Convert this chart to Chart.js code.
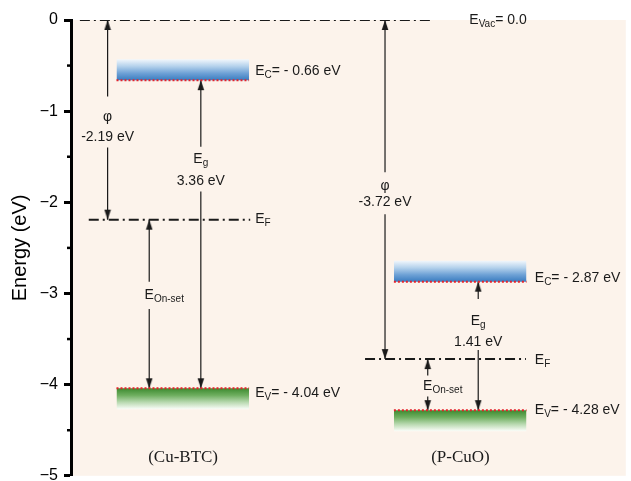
<!DOCTYPE html>
<html>
<head>
<meta charset="utf-8">
<script src="https://cdn.jsdelivr.net/npm/chart.js@4"></script>
<style>
  html, body { margin: 0; padding: 0; background: #fff; }
  canvas { display: block; }
</style>
</head>
<body>
<canvas id="band-chart" width="631" height="481"></canvas>
<script>
// band positions (eV, vacuum = 0)
const materials = ['(Cu-BTC)', '(P-CuO)'];
const conductionBand = [-0.66, -2.87];
const valenceBand = [-4.04, -4.28];
const fermiLevel = [-2.19, -3.72];
const bandGap = [3.36, 1.41];
const vacuumLevel = 0.0;
const yTicks = [0, -1, -2, -3, -4, -5];

// layout only: x in 0..100 across the plot, text/gap spots in eV
const BAND_H = 0.23;
const vacLine = [1.6, 65.4], vacLabelX = 71.8;
const place = [
  { band: [8.2, 32.1], fermiLine: [3.2, 32.3], phiX: 6.6, gapX: 23.4, onsetX: 14.1, labelX: 33.2, nameX: 20.2,
    phiGap: [-0.84, -1.40], phiText: [-1.07, -1.28],
    gapGap: [-1.39, -1.88], gapText: [-1.53, -1.77],
    onsetGap: [-2.87, -3.17], onsetText: -3.02,
    ecDy: -9, evDy: 5, efDy: 0 },
  { band: [58.2, 82.1], fermiLine: [53.0, 82.0], phiX: 56.6, gapX: 73.4, onsetX: 64.3, labelX: 83.6, nameX: 70.2,
    phiGap: [-1.67, -2.13], phiText: [-1.82, -2.00],
    gapGap: [-3.06, -3.62], gapText: [-3.30, -3.53],
    onsetGap: [-3.90, -4.13], onsetText: -4.02,
    ecDy: -3, evDy: 0, efDy: 1 }
];
const nameY = -4.80;

const SANS = '"Liberation Sans", Arial, sans-serif';
const SERIF = '"Liberation Serif", "Times New Roman", serif';
const INK = '#1a1a1a';

function arrowHead(up) {
  const c = document.createElement('canvas');
  c.width = 8; c.height = 22;
  const g = c.getContext('2d');
  g.fillStyle = INK;
  g.beginPath();
  if (up) { g.moveTo(4, 11); g.lineTo(7.3, 21); g.lineTo(0.7, 21); }
  else { g.moveTo(4, 11); g.lineTo(7.3, 1); g.lineTo(0.7, 1); }
  g.closePath();
  g.fill();
  return c;
}
const headUp = arrowHead(true), headDown = arrowHead(false);

function arrow(x, from, to, gap) {
  return {
    data: [{x, y: from}, {x, y: gap[0]}, {x, y: null}, {x, y: gap[1]}, {x, y: to}],
    borderColor: INK, borderWidth: 1.2, spanGaps: false,
    pointStyle: c => c.dataIndex === 0 ? headUp : headDown,
    pointRadius: c => (c.dataIndex === 0 || c.dataIndex === 4) ? 4 : 0
  };
}

function dashDot(x0, x1, y) {
  return {
    data: [{x: x0, y}, {x: x1, y}],
    borderColor: INK, borderWidth: 2, borderDash: [10, 4, 2, 4], pointRadius: 0
  };
}

function bandFill(x0, x1, edge, top, stops) {
  return {
    data: [{x: x0, y: top}, {x: x1, y: top}],
    borderWidth: 0, pointRadius: 0,
    fill: {value: edge},
    backgroundColor: c => {
      const chart = c.chart;
      if (!chart.chartArea) return stops[stops.length - 1];
      const y = chart.scales.y;
      const g = chart.ctx.createLinearGradient(0, y.getPixelForValue(top), 0, y.getPixelForValue(edge));
      stops.forEach((s, i) => g.addColorStop(i / (stops.length - 1), s));
      return g;
    }
  };
}

function redEdge(x0, x1, y) {
  return {
    data: [{x: x0, y}, {x: x1, y}],
    borderColor: '#e5222b', borderWidth: 2, borderDash: [2, 2], pointRadius: 0
  };
}

const datasets = [dashDot(vacLine[0], vacLine[1], vacuumLevel)];
materials.forEach((m, i) => {
  const p = place[i];
  datasets.push(bandFill(p.band[0], p.band[1], conductionBand[i], conductionBand[i] + BAND_H,
    ['#f2f7fc', '#b5d2ec', '#6fa2d6', '#3a7cc0']));
  datasets.push(bandFill(p.band[0], p.band[1], valenceBand[i], valenceBand[i] - BAND_H,
    ['#fbfdf9', '#b8d9b0', '#6eae5f', '#3c8a2f']));
  datasets.push(redEdge(p.band[0], p.band[1], conductionBand[i]));
  datasets.push(redEdge(p.band[0], p.band[1], valenceBand[i]));
  datasets.push(dashDot(p.fermiLine[0], p.fermiLine[1], fermiLevel[i]));
  datasets.push(arrow(p.phiX, vacuumLevel, fermiLevel[i], p.phiGap));
  datasets.push(arrow(p.gapX, conductionBand[i], valenceBand[i], p.gapGap));
  datasets.push(arrow(p.onsetX, fermiLevel[i], valenceBand[i], p.onsetGap));
});

// text with subscripts: parts = [[text, isSub], ...]
function rich(ctx, parts, px, py, mode) {
  const fMain = '14px ' + SANS, fSub = '10px ' + SANS;
  ctx.textBaseline = 'middle';
  ctx.textAlign = 'left';
  const widths = parts.map(([t, s]) => { ctx.font = s ? fSub : fMain; return ctx.measureText(t).width; });
  const total = widths.reduce((a, b) => a + b, 0);
  let x = px;
  if (mode === 'center') x = px - total / 2;
  if (mode === 'first') x = px - widths[0] / 2;
  parts.forEach(([t, s], k) => {
    ctx.font = s ? fSub : fMain;
    ctx.fillText(t, x, s ? py + 4 : py);
    x += widths[k];
  });
}

const eV = v => '= - ' + Math.abs(v).toFixed(2) + ' eV';

const bandLabels = {
  id: 'bandLabels',
  afterDatasetsDraw(chart) {
    const {ctx, scales: {x, y}} = chart;
    ctx.save();
    ctx.fillStyle = INK;
    rich(ctx, [['E', 0], ['Vac', 1], ['= ' + vacuumLevel.toFixed(1), 0]], x.getPixelForValue(vacLabelX), y.getPixelForValue(vacuumLevel), 'left');
    materials.forEach((m, i) => {
      const p = place[i];
      const lx = x.getPixelForValue(p.labelX);
      rich(ctx, [['E', 0], ['C', 1], [eV(conductionBand[i]), 0]], lx, y.getPixelForValue(conductionBand[i]) + p.ecDy, 'left');
      rich(ctx, [['E', 0], ['V', 1], [eV(valenceBand[i]), 0]], lx, y.getPixelForValue(valenceBand[i]) + p.evDy, 'left');
      rich(ctx, [['E', 0], ['F', 1]], lx, y.getPixelForValue(fermiLevel[i]) + p.efDy, 'left');

      const phx = x.getPixelForValue(p.phiX);
      rich(ctx, [['\u03c6', 0]], phx, y.getPixelForValue(p.phiText[0]), 'center');
      rich(ctx, [[fermiLevel[i].toFixed(2) + ' eV', 0]], phx, y.getPixelForValue(p.phiText[1]), 'center');

      const gx = x.getPixelForValue(p.gapX);
      rich(ctx, [['E', 0], ['g', 1]], gx, y.getPixelForValue(p.gapText[0]), 'center');
      rich(ctx, [[bandGap[i].toFixed(2) + ' eV', 0]], gx, y.getPixelForValue(p.gapText[1]), 'center');

      rich(ctx, [['E', 0], ['On-set', 1]], x.getPixelForValue(p.onsetX), y.getPixelForValue(p.onsetText), 'first');

      ctx.font = '17px ' + SERIF;
      ctx.textAlign = 'center';
      ctx.textBaseline = 'middle';
      ctx.fillText(m, x.getPixelForValue(p.nameX), y.getPixelForValue(nameY));
    });
    ctx.restore();
  }
};

const plotBg = {
  id: 'plotBg',
  beforeDraw(chart) {
    const {ctx, chartArea: a} = chart;
    ctx.save();
    ctx.fillStyle = '#fcf3eb';
    ctx.fillRect(a.left, a.top, a.right - a.left, a.bottom - a.top);
    ctx.restore();
  }
};

const minorTicks = {
  id: 'minorTicks',
  afterDraw(chart) {
    const {ctx, chartArea: a, scales: {y}} = chart;
    ctx.save();
    ctx.strokeStyle = '#000';
    ctx.lineWidth = 2.5;
    for (let k = 0; k < yTicks.length - 1; k++) {
      const py = y.getPixelForValue((yTicks[k] + yTicks[k + 1]) / 2);
      ctx.beginPath();
      ctx.moveTo(a.left - 4, py);
      ctx.lineTo(a.left, py);
      ctx.stroke();
    }
    ctx.restore();
  }
};

new Chart(document.getElementById('band-chart'), {
  type: 'line',
  data: { datasets },
  options: {
    responsive: false,
    animation: false,
    events: [],
    layout: { padding: { top: 20, bottom: 3, left: 0, right: 0 } },
    plugins: {
      legend: { display: false },
      tooltip: { enabled: false },
      filler: { drawTime: 'beforeDatasetsDraw' }
    },
    scales: {
      x: { type: 'linear', min: 0, max: 100, display: false },
      y: {
        min: -5, max: 0,
        afterBuildTicks: s => { s.ticks = yTicks.map(v => ({ value: v })); },
        afterFit: s => { s.width = 71; s.paddingTop = 0; s.paddingBottom = 0; },
        ticks: {
          padding: 6, color: '#000',
          font: { family: SANS, size: 16 },
          callback: v => v === 0 ? '0' : '\u2212' + Math.abs(v)
        },
        grid: { drawOnChartArea: false, drawTicks: true, tickLength: 7, tickWidth: 3, tickColor: '#000' },
        border: { display: true, color: '#000', width: 3 },
        title: {
          display: true, text: 'Energy (eV)', color: '#000',
          font: { family: SANS, size: 20 },
          padding: { top: 8, bottom: 0 }
        }
      }
    }
  },
  plugins: [plotBg, minorTicks, bandLabels]
});
</script>
</body>
</html>
